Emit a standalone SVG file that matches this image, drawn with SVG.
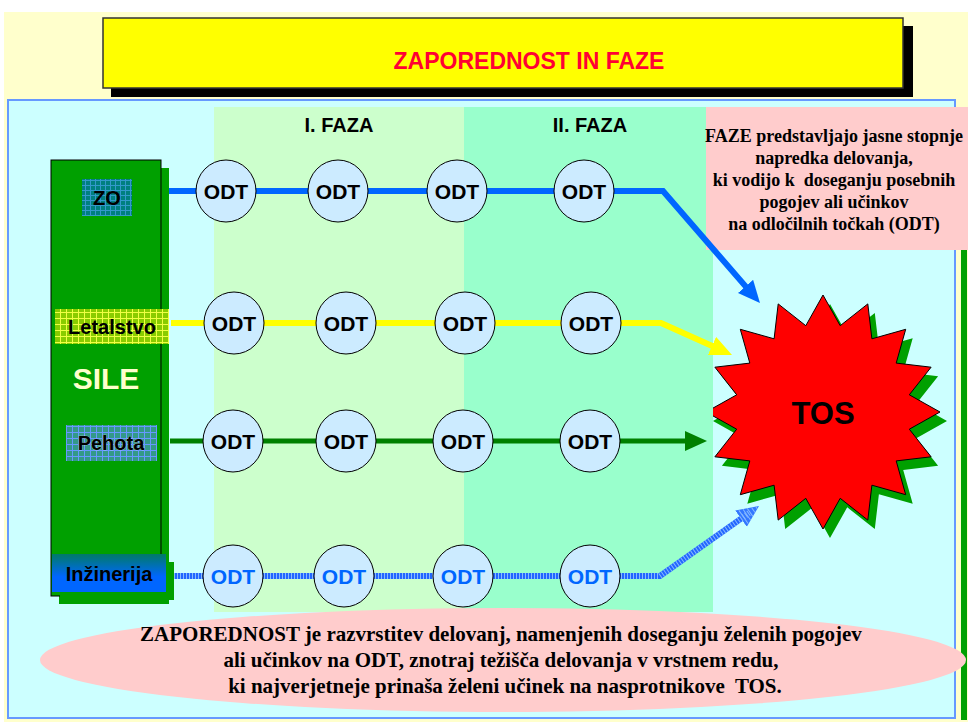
<svg xmlns="http://www.w3.org/2000/svg" width="968" height="722" viewBox="0 0 968 722">
<style>
.odt{fill:#CCEBFF;stroke:#000;stroke-width:1}
.odtt{font-family:"Liberation Sans",Arial,sans-serif;font-weight:bold;font-size:21px;text-anchor:middle;fill:#000}
.lbl{font-family:"Liberation Sans",Arial,sans-serif;font-weight:bold;font-size:20px;text-anchor:middle;fill:#000}
.ser{font-family:"Liberation Serif","Times New Roman",serif;font-weight:bold;text-anchor:middle;fill:#000}
.faza{font-family:"Liberation Sans",Arial,sans-serif;font-weight:bold;font-size:20px;text-anchor:middle;fill:#000}
</style>
<defs>
<pattern id="gZO" width="5" height="5" patternUnits="userSpaceOnUse"><rect width="5" height="5" fill="#007F80"/><path d="M0 0.5H5M0.5 0V5" stroke="#3399CC" stroke-width="1"/></pattern>
<pattern id="gLet" width="6" height="6" patternUnits="userSpaceOnUse"><rect width="6" height="6" fill="#88CC00"/><path d="M0 0.5H6M0.5 0V6" stroke="#EEFF44" stroke-width="1"/></pattern>
<pattern id="gPeh" width="6" height="6" patternUnits="userSpaceOnUse"><rect width="6" height="6" fill="#339988"/><path d="M0 0.5H6M0.5 0V6" stroke="#6699FF" stroke-width="1"/></pattern>
<linearGradient id="gInz" x1="0" y1="0" x2="0" y2="1"><stop offset="0" stop-color="#007A66"/><stop offset="0.6" stop-color="#0066FF"/><stop offset="1" stop-color="#0066FF"/></linearGradient>
<marker id="aBlue" markerUnits="userSpaceOnUse" markerWidth="24" markerHeight="22" refX="10" refY="10" orient="auto"><path d="M0,0 L22,10 L0,20 z" fill="#0066FF"/></marker>
<marker id="aYel" markerUnits="userSpaceOnUse" markerWidth="24" markerHeight="22" refX="10" refY="10" orient="auto"><path d="M0,0 L22,10 L0,20 z" fill="#FFFF00"/></marker>
<marker id="aGrn" markerUnits="userSpaceOnUse" markerWidth="24" markerHeight="22" refX="10" refY="10" orient="auto"><path d="M0,0 L22,10 L0,20 z" fill="#008000"/></marker>
<marker id="aHat" markerUnits="userSpaceOnUse" markerWidth="24" markerHeight="22" refX="10" refY="10" orient="auto"><path d="M0,0 L22,10 L0,20 z" fill="#3377FF"/><path d="M3,2V18M7,3.5V16.5M11,5V15M15,7V13M19,8.5V11.5" stroke="#88BBFF" stroke-width="1"/></marker>
</defs>

<!-- background -->
<rect x="0" y="0" width="968" height="722" fill="#FFFFFF"/>
<rect x="4" y="12" width="964" height="710" fill="#FFFFCC"/>

<!-- title -->
<g id="title">
<rect x="111" y="26" width="802" height="71" fill="#000"/>
<rect x="103" y="18" width="800" height="70" fill="#FFFF00" stroke="#333" stroke-width="1.5"/>
<text x="529" y="69" font-family="Liberation Sans, Arial, sans-serif" font-weight="bold" font-size="23" text-anchor="middle" fill="#FF0033">ZAPOREDNOST IN FAZE</text>
</g>

<!-- main panel -->
<rect x="8" y="100" width="947" height="618" fill="#CCFFFF" stroke="#6699FF" stroke-width="2"/>
<rect x="961" y="250" width="6" height="470" fill="#00A000"/>

<!-- TOS star -->
<g id="tos">
<polygon transform="translate(7,9)" fill="#00A000" points="823,295 840.2,325.7 867.8,303.9 871.9,338.8 905.7,329.3 896.2,363.1 931.1,367.2 909.3,394.8 940,412 909.3,429.2 931.1,456.8 896.2,460.9 905.7,494.7 871.9,485.2 867.8,520.1 840.2,498.3 823,529 805.8,498.3 778.2,520.1 774.1,485.2 740.3,494.7 749.8,460.9 714.9,456.8 736.7,429.2 706,412 736.7,394.8 714.9,367.2 749.8,363.1 740.3,329.3 774.1,338.8 778.2,303.9 805.8,325.7"/>
<polygon fill="#FF0000" stroke="#000" stroke-width="1" points="823,295 840.2,325.7 867.8,303.9 871.9,338.8 905.7,329.3 896.2,363.1 931.1,367.2 909.3,394.8 940,412 909.3,429.2 931.1,456.8 896.2,460.9 905.7,494.7 871.9,485.2 867.8,520.1 840.2,498.3 823,529 805.8,498.3 778.2,520.1 774.1,485.2 740.3,494.7 749.8,460.9 714.9,456.8 736.7,429.2 706,412 736.7,394.8 714.9,367.2 749.8,363.1 740.3,329.3 774.1,338.8 778.2,303.9 805.8,325.7"/>
<text x="823" y="424" font-family="Liberation Sans, Arial, sans-serif" font-weight="bold" font-size="31" text-anchor="middle" fill="#000">TOS</text>
</g>

<!-- phase bands -->
<g id="phase1">
<rect x="214" y="107" width="250" height="505" fill="#CCFFCC"/>
<text class="faza" x="339" y="132">I. FAZA</text>
</g>
<g id="phase2">
<rect x="464" y="107" width="249" height="505" fill="#99FFCC"/>
<text class="faza" x="590" y="132">II. FAZA</text>
</g>

<!-- note box -->
<g id="note">
<rect x="706" y="107" width="262" height="143" fill="#FFCCCC"/>
<text class="ser" font-size="18" x="834" y="142">FAZE predstavljajo jasne stopnje</text>
<text class="ser" font-size="18" x="834" y="164">napredka delovanja,</text>
<text class="ser" font-size="18" x="834" y="186" xml:space="preserve">ki vodijo k  doseganju posebnih</text>
<text class="ser" font-size="18" x="834" y="208">pogojev ali učinkov</text>
<text class="ser" font-size="18" x="834" y="230">na odločilnih točkah (ODT)</text>
</g>

<!-- connectors -->
<g id="connectors" fill="none">
<polyline points="162,191 663,191 752.1,293.9" stroke="#0066FF" stroke-width="6" marker-end="url(#aBlue)"/>
<polyline points="171,323 661,323 721.1,350.1" stroke="#FFFF00" stroke-width="6" marker-end="url(#aYel)"/>
<polyline points="170,441 695,441" stroke="#008000" stroke-width="5" marker-end="url(#aGrn)"/>
<polyline points="168,576 660,576 749.2,512.9" stroke="#2266FF" stroke-width="6" marker-end="url(#aHat)"/>
<polyline points="168,576 660,576 749.2,512.9" stroke="#88BBFF" stroke-width="6" stroke-dasharray="1 2"/>
</g>

<!-- ODT nodes row 1 -->
<g id="odt-zo-1"><ellipse class="odt" cx="226" cy="191" rx="30" ry="31"/><text class="odtt" x="226" y="199">ODT</text></g>
<g id="odt-zo-2"><ellipse class="odt" cx="338" cy="191" rx="30" ry="31"/><text class="odtt" x="338" y="199">ODT</text></g>
<g id="odt-zo-3"><ellipse class="odt" cx="457" cy="191" rx="30" ry="31"/><text class="odtt" x="457" y="199">ODT</text></g>
<g id="odt-zo-4"><ellipse class="odt" cx="584" cy="191" rx="30" ry="31"/><text class="odtt" x="584" y="199">ODT</text></g>
<!-- row 2 -->
<g id="odt-let-1"><ellipse class="odt" cx="234" cy="323" rx="30" ry="31"/><text class="odtt" x="234" y="331">ODT</text></g>
<g id="odt-let-2"><ellipse class="odt" cx="346" cy="323" rx="30" ry="31"/><text class="odtt" x="346" y="331">ODT</text></g>
<g id="odt-let-3"><ellipse class="odt" cx="465" cy="323" rx="30" ry="31"/><text class="odtt" x="465" y="331">ODT</text></g>
<g id="odt-let-4"><ellipse class="odt" cx="591" cy="323" rx="30" ry="31"/><text class="odtt" x="591" y="331">ODT</text></g>
<!-- row 3 -->
<g id="odt-peh-1"><ellipse class="odt" cx="233" cy="441" rx="30" ry="31"/><text class="odtt" x="233" y="449">ODT</text></g>
<g id="odt-peh-2"><ellipse class="odt" cx="346" cy="441" rx="30" ry="31"/><text class="odtt" x="346" y="449">ODT</text></g>
<g id="odt-peh-3"><ellipse class="odt" cx="463" cy="441" rx="30" ry="31"/><text class="odtt" x="463" y="449">ODT</text></g>
<g id="odt-peh-4"><ellipse class="odt" cx="590" cy="441" rx="30" ry="31"/><text class="odtt" x="590" y="449">ODT</text></g>
<!-- row 4 -->
<g id="odt-inz-1"><ellipse class="odt" cx="233" cy="576" rx="30" ry="31"/><text class="odtt" x="233" y="584" style="fill:#0066FF">ODT</text></g>
<g id="odt-inz-2"><ellipse class="odt" cx="344" cy="576" rx="30" ry="31"/><text class="odtt" x="344" y="584" style="fill:#0066FF">ODT</text></g>
<g id="odt-inz-3"><ellipse class="odt" cx="463" cy="576" rx="30" ry="31"/><text class="odtt" x="463" y="584" style="fill:#0066FF">ODT</text></g>
<g id="odt-inz-4"><ellipse class="odt" cx="590" cy="576" rx="30" ry="31"/><text class="odtt" x="590" y="584" style="fill:#0066FF">ODT</text></g>

<!-- SILE column -->
<g id="sile">
<rect x="59" y="168" width="110" height="436" fill="#00A000"/>
<rect x="51" y="160" width="110" height="436" fill="#00A000" stroke="#000" stroke-width="1"/>
<text x="106" y="389" font-family="Liberation Sans, Arial, sans-serif" font-weight="bold" font-size="30" text-anchor="middle" fill="#FFFFCC">SILE</text>
</g>
<g id="zo">
<rect x="82" y="179" width="50" height="37" fill="url(#gZO)"/>
<text class="lbl" x="107" y="205">ZO</text>
</g>
<g id="letalstvo">
<rect x="55" y="309" width="114" height="35" fill="url(#gLet)"/>
<text class="lbl" x="112" y="334">Letalstvo</text>
</g>
<g id="pehota">
<rect x="66" y="425" width="91" height="36" fill="url(#gPeh)"/>
<text class="lbl" x="111" y="450" stroke="#FFFFFF" stroke-width="0.6" stroke-opacity="0.6" paint-order="stroke">Pehota</text>
</g>
<g id="inzinerija">
<rect x="60" y="562" width="114" height="38" fill="#00A000"/>
<rect x="52" y="554" width="114" height="38" fill="url(#gInz)"/>
<text class="lbl" x="109" y="581">Inžinerija</text>
</g>

<!-- bottom ellipse -->
<g id="definition">
<ellipse cx="503" cy="660" rx="463" ry="52" fill="#FFCCCC"/>
<text class="ser" font-size="21" x="501" y="641">ZAPOREDNOST je razvrstitev delovanj, namenjenih doseganju želenih pogojev</text>
<text class="ser" font-size="21" x="501" y="667">ali učinkov na ODT, znotraj težišča delovanja v vrstnem redu,</text>
<text class="ser" font-size="21" x="505" y="693" xml:space="preserve">ki najverjetneje prinaša želeni učinek na nasprotnikove  TOS.</text>
</g>
</svg>
